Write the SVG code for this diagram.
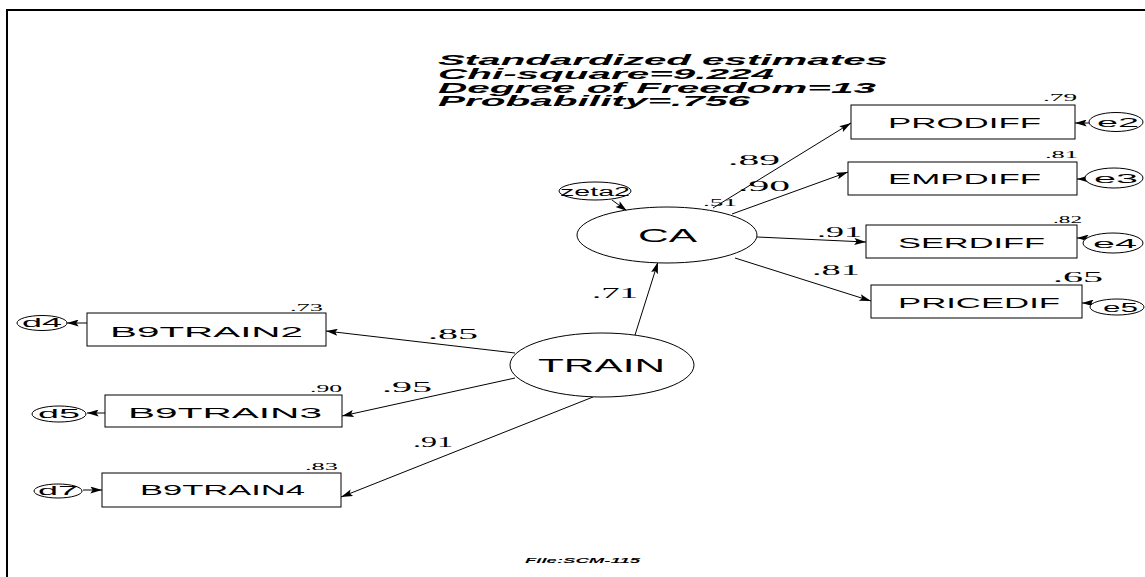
<svg xmlns="http://www.w3.org/2000/svg" width="1145" height="577" viewBox="0 0 1145 577">
<style>
.title{font-family:"Liberation Sans",Arial,sans-serif;font-weight:bold;font-style:italic;font-size:14.5px;fill:#000}
.lbl{font-family:"Liberation Sans",Arial,sans-serif;font-size:14px;fill:#000}
.big{font-family:"Liberation Sans",Arial,sans-serif;font-size:18px;fill:#000}
.err{font-family:"Liberation Sans",Arial,sans-serif;font-size:12px;fill:#000}
.num{font-family:"Liberation Serif","Times New Roman",serif;font-size:15px;fill:#000}
.r2{font-family:"Liberation Serif","Times New Roman",serif;font-size:10px;fill:#000}
.box{fill:#fff;stroke:#000;stroke-width:1}
.ell{fill:#fff;stroke:#000;stroke-width:1}
.edge{stroke:#000;stroke-width:1;fill:none;marker-end:url(#ah)}
.foot{font-family:"Liberation Sans",Arial,sans-serif;font-weight:bold;font-style:italic;font-size:7px;fill:#000}
</style>
<defs>
<marker id="ah" viewBox="0 0 10 6" refX="10" refY="3" markerWidth="17" markerHeight="7" markerUnits="userSpaceOnUse" orient="auto">
<path d="M0,0 L10,3 L0,6 L2,3 z" fill="#000"/>
</marker>
</defs>
<rect width="1145" height="577" fill="#fff"/>
<path d="M7,577 V10 H1145" fill="none" stroke="#000" stroke-width="2"/>

<g id="title">
<text class="title" x="438" y="65" textLength="450" lengthAdjust="spacingAndGlyphs">Standardized estimates</text>
<text class="title" x="438" y="79" textLength="336" lengthAdjust="spacingAndGlyphs">Chi-square=9.224</text>
<text class="title" x="438" y="93" textLength="438" lengthAdjust="spacingAndGlyphs">Degree of Freedom=13</text>
<text class="title" x="438" y="106" textLength="312" lengthAdjust="spacingAndGlyphs">Probability=.756</text>
</g>

<g id="connectors">
<line class="edge" x1="612" y1="200" x2="627" y2="211"/>
<line class="edge" x1="713" y1="208" x2="851" y2="123"/>
<line class="edge" x1="732" y1="214" x2="848" y2="172"/>
<line class="edge" x1="757" y1="237" x2="866" y2="242"/>
<line class="edge" x1="735" y1="258" x2="871" y2="301"/>
<line class="edge" x1="635" y1="335" x2="658" y2="262"/>
<line class="edge" x1="515" y1="353" x2="326" y2="331"/>
<line class="edge" x1="515" y1="378" x2="342" y2="416"/>
<line class="edge" x1="593" y1="397" x2="341" y2="497"/>
<line class="edge" x1="1090" y1="123" x2="1075" y2="123"/>
<line class="edge" x1="1086" y1="179" x2="1077" y2="179"/>
<line class="edge" x1="1084" y1="238" x2="1077" y2="238"/>
<line class="edge" x1="1092" y1="303" x2="1082" y2="303"/>
<line class="edge" x1="87" y1="323" x2="67" y2="323"/>
<line class="edge" x1="105" y1="413" x2="87" y2="413"/>
<line class="edge" x1="83" y1="490" x2="102" y2="490"/>
</g>

<g id="zeta2"><ellipse class="ell" cx="595" cy="191" rx="36" ry="9" fill-opacity="0"/><text class="err" x="560" y="196" textLength="70" lengthAdjust="spacingAndGlyphs">zeta2</text></g>
<g id="CA"><ellipse class="ell" cx="667" cy="235" rx="90" ry="28"/><text class="big" x="638" y="242" textLength="59" lengthAdjust="spacingAndGlyphs">CA</text></g>
<g id="TRAIN"><ellipse class="ell" cx="602" cy="365" rx="92" ry="32"/><text class="big" x="538" y="372" textLength="127" lengthAdjust="spacingAndGlyphs">TRAIN</text></g>

<g id="PRODIFF"><rect class="box" x="851" y="105" width="224" height="34"/><text class="lbl" x="888" y="128" textLength="153" lengthAdjust="spacingAndGlyphs">PRODIFF</text></g>
<g id="EMPDIFF"><rect class="box" x="848" y="162" width="229" height="33"/><text class="lbl" x="888" y="184" textLength="153" lengthAdjust="spacingAndGlyphs">EMPDIFF</text></g>
<g id="SERDIFF"><rect class="box" x="866" y="225" width="211" height="33"/><text class="lbl" x="898" y="248" textLength="147" lengthAdjust="spacingAndGlyphs">SERDIFF</text></g>
<g id="PRICEDIF"><rect class="box" x="871" y="285" width="211" height="33"/><text class="lbl" x="898" y="308" textLength="162" lengthAdjust="spacingAndGlyphs">PRICEDIF</text></g>

<g id="B9TRAIN2"><rect class="box" x="87" y="313" width="239" height="33"/><text class="lbl" x="110" y="337" textLength="193" lengthAdjust="spacingAndGlyphs">B9TRAIN2</text></g>
<g id="B9TRAIN3"><rect class="box" x="105" y="395" width="237" height="32"/><text class="lbl" x="128" y="418" textLength="194" lengthAdjust="spacingAndGlyphs">B9TRAIN3</text></g>
<g id="B9TRAIN4"><rect class="box" x="102" y="473" width="239" height="34"/><text class="lbl" x="140" y="495" textLength="165" lengthAdjust="spacingAndGlyphs">B9TRAIN4</text></g>

<g id="e2"><ellipse class="ell" cx="1116" cy="122" rx="27" ry="9.5"/><text class="err" x="1097" y="127" textLength="42" lengthAdjust="spacingAndGlyphs">e2</text></g>
<g id="e3"><ellipse class="ell" cx="1114" cy="178" rx="29" ry="10"/><text class="err" x="1094" y="183" textLength="44" lengthAdjust="spacingAndGlyphs">e3</text></g>
<g id="e4"><ellipse class="ell" cx="1113" cy="243" rx="30" ry="10"/><text class="err" x="1093" y="248" textLength="44" lengthAdjust="spacingAndGlyphs">e4</text></g>
<g id="e5"><ellipse class="ell" cx="1117" cy="307" rx="27" ry="8"/><text class="err" x="1103" y="312" textLength="35" lengthAdjust="spacingAndGlyphs">e5</text></g>
<g id="d4"><ellipse class="ell" cx="42" cy="323" rx="25" ry="7.5"/><text class="err" x="22" y="327" textLength="40" lengthAdjust="spacingAndGlyphs">d4</text></g>
<g id="d5"><ellipse class="ell" cx="59" cy="414" rx="27" ry="8"/><text class="err" x="38" y="418" textLength="42" lengthAdjust="spacingAndGlyphs">d5</text></g>
<g id="d7"><ellipse class="ell" cx="58" cy="491" rx="24" ry="7"/><text class="err" x="38" y="495" textLength="40" lengthAdjust="spacingAndGlyphs">d7</text></g>

<g id="labels">
<text class="num" x="728" y="165" textLength="52" lengthAdjust="spacingAndGlyphs">.89</text>
<text class="num" x="738" y="191" textLength="52" lengthAdjust="spacingAndGlyphs">.90</text>
<text class="r2" x="703" y="206" textLength="34" lengthAdjust="spacingAndGlyphs">.51</text>
<text class="num" x="817" y="237" textLength="45" lengthAdjust="spacingAndGlyphs">.91</text>
<text class="num" x="812" y="275" textLength="48" lengthAdjust="spacingAndGlyphs">.81</text>
<text class="num" x="592" y="298" textLength="46" lengthAdjust="spacingAndGlyphs">.71</text>
<text class="num" x="428" y="339" textLength="50" lengthAdjust="spacingAndGlyphs">.85</text>
<text class="num" x="382" y="392" textLength="50" lengthAdjust="spacingAndGlyphs">.95</text>
<text class="num" x="413" y="447" textLength="40" lengthAdjust="spacingAndGlyphs">.91</text>
<text class="r2" x="1043" y="101" textLength="34" lengthAdjust="spacingAndGlyphs">.79</text>
<text class="r2" x="1045" y="158" textLength="33" lengthAdjust="spacingAndGlyphs">.81</text>
<text class="r2" x="1053" y="223" textLength="29" lengthAdjust="spacingAndGlyphs">.82</text>
<text class="num" x="1053" y="282" textLength="50" lengthAdjust="spacingAndGlyphs">.65</text>
<text class="r2" x="290" y="311" textLength="33" lengthAdjust="spacingAndGlyphs">.73</text>
<text class="r2" x="310" y="392" textLength="32" lengthAdjust="spacingAndGlyphs">.90</text>
<text class="r2" x="305" y="470" textLength="33" lengthAdjust="spacingAndGlyphs">.83</text>
</g>

<text class="foot" x="525" y="563" textLength="115" lengthAdjust="spacingAndGlyphs">File:SCM-115</text>
</svg>
